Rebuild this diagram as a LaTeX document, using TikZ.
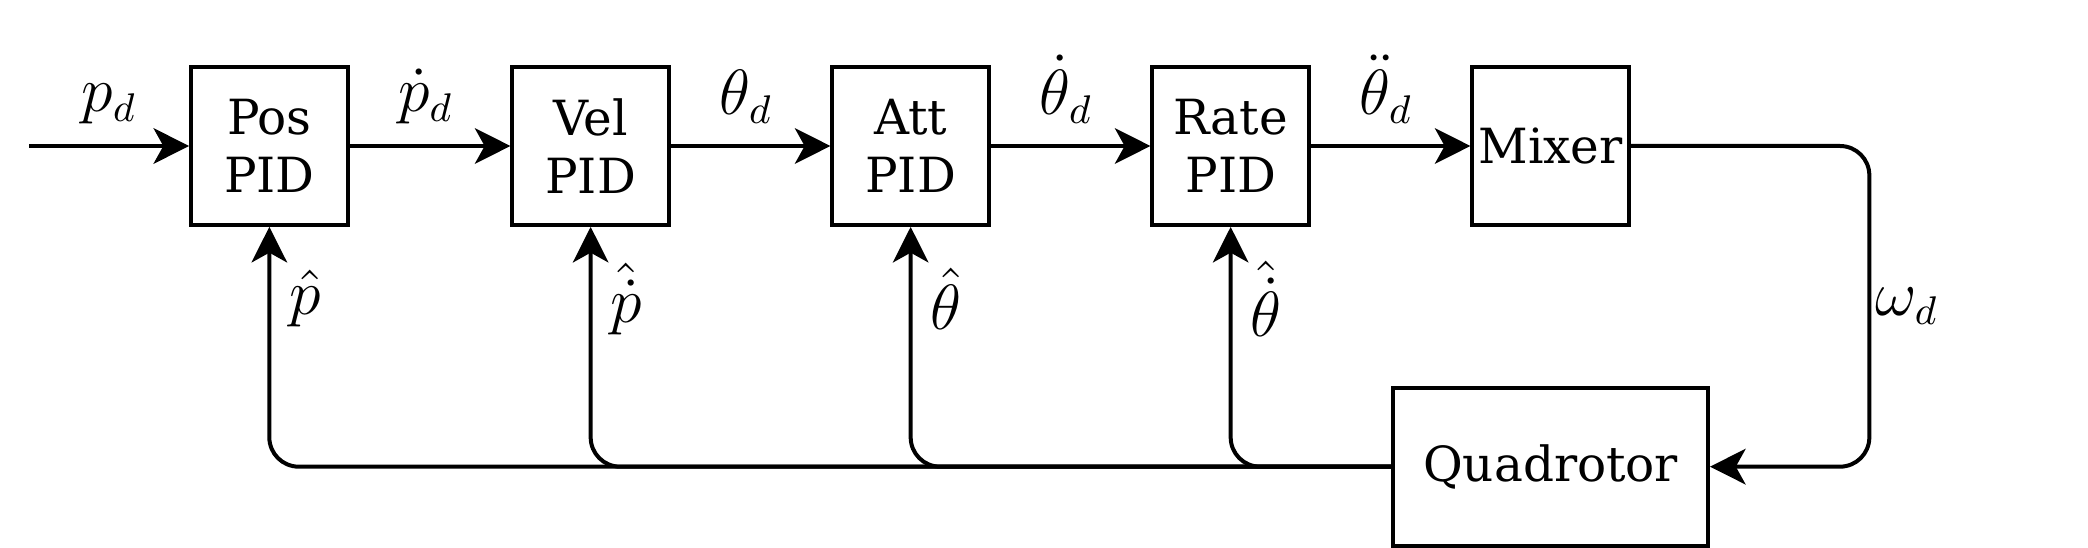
\documentclass[tikz,border=0pt]{standalone}
\usepackage{fontspec}
\setmainfont{DejaVu Serif}
\usetikzlibrary{arrows.meta}

\begin{document}
\begin{tikzpicture}[x=0.3pt, y=-0.3pt]%
            \tikzstyle{block}=[draw, line width=0.9pt, minimum width=35.2pt, minimum height=35.5pt, inner sep=0pt, align=center, font=\fontsize{10.9}{13}\selectfont];%
            \tikzstyle{link}=[line width=0.9pt, -{Stealth[length=8pt, width=8pt, inset=2.2pt]}];%
            \tikzstyle{sig}=[font=\fontsize{13.5}{16}\selectfont, inner sep=2.5pt];%
            \useasboundingbox (0, 0) rectangle (1566, 411);
            \coordinate (in) at (22, 109.5);
            \node (pos) at (202, 109.5) [block] {Pos\\PID};
            \node (vel) at (443, 109.5) [block] {Vel\\PID};
            \node (att) at (683, 109.5) [block] {Att\\PID};
            \node (rate) at (923, 109.5) [block] {Rate\\PID};
            \node (mixer) at (1163, 109.5) [block] {Mixer};
            \node (quad) at (1163, 350) [block, minimum width=70.8pt] {Quadrotor};
            \coordinate (turn) at (1402, 350);

            % forward chain
            \draw[link] (in) -- node [above=2pt, sig] {$p_d$} (pos);
            \draw[link] (pos) -- node [above=2pt, sig, xshift=-1pt] {$\dot{p}_d$} (vel);
            \draw[link] (vel) -- node [above=2pt, sig, xshift=-1pt] {$\theta_d$} (att);
            \draw[link] (att) -- node [above=2pt, sig, xshift=-1pt] {$\dot{\theta}_d$} (rate);
            \draw[link] (rate) -- node [above=2pt, sig, xshift=-1pt] {$\ddot{\theta}_d$} (mixer);
            \draw[link, rounded corners=6.6pt] (mixer.east) -| node [pos=0.75, right, sig, inner sep=1pt] {$\omega_d$} (turn) -- (quad.east);

            % feedback
            \draw[link, rounded corners=6.6pt] (quad.west) -| node [pos=0.85, right=1.5pt, sig] {$\hat{p}$} (pos.south);
            \draw[link, rounded corners=6.6pt] (quad.west) -| node [pos=0.85, right=1.5pt, sig] {$\hat{\dot{p}}$} (vel.south);
            \draw[link, rounded corners=6.6pt] (quad.west) -| node [pos=0.85, right=1.5pt, sig] {$\hat{\theta}$} (att.south);
            \draw[link, rounded corners=6.6pt] (quad.west) -| node [pos=0.85, right=1.5pt, sig] {$\hat{\dot{\theta}}$} (rate.south);
        \end{tikzpicture}
\end{document}
